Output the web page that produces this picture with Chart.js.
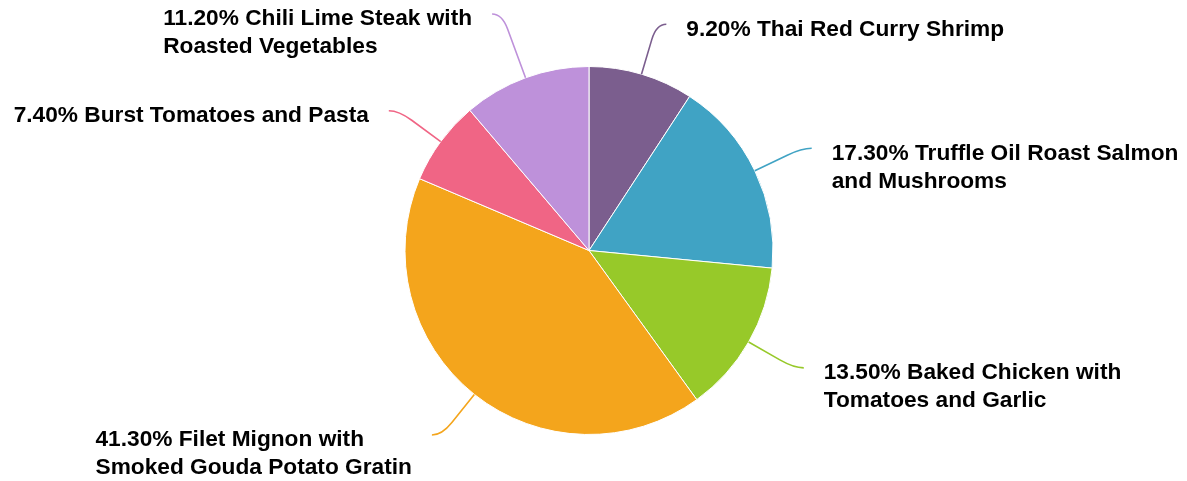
<!DOCTYPE html>
<html>
<head>
<meta charset="utf-8">
<script src="https://cdn.jsdelivr.net/npm/chart.js@4"></script>
<style>
  html, body { margin: 0; padding: 0; background: #fff; }
  #wrap { width: 1187px; height: 481px; position: relative; }
</style>
</head>
<body>
<div id="wrap"><canvas id="chart"></canvas></div>
<script>
// dados do gráfico
const categories = [
  'Thai Red Curry Shrimp',
  'Truffle Oil Roast Salmon and Mushrooms',
  'Baked Chicken with Tomatoes and Garlic',
  'Filet Mignon with Smoked Gouda Potato Gratin',
  'Burst Tomatoes and Pasta',
  'Chili Lime Steak with Roasted Vegetables',
];
const shares = [9.2, 17.3, 13.5, 41.3, 7.4, 11.2];
// onde cada rótulo quebra a linha (número de palavras na 1ª linha, incluindo o %)
const firstLineWords = [5, 5, 4, 4, 6, 5];
const colors = ['#7b5e8e', '#40a3c4', '#97c929', '#f4a51c', '#f06585', '#be91da'];

// extensão radial da linha-guia (px além da borda)
const leaderExt = [52, 52, 52, 52, 52, 68];

const FONT = 'bold 22.7px "Liberation Sans", Arial, sans-serif';
const LINE_H = 28;

const labelPlugin = {
  id: 'leaderLabels',
  afterDatasetsDraw(chart) {
    const ctx = chart.ctx;
    const meta = chart.getDatasetMeta(0);
    ctx.save();
    ctx.font = FONT;
    ctx.textBaseline = 'middle';
    meta.data.forEach((arc, i) => {
      const { x, y, startAngle, endAngle, outerRadius } = arc.getProps(['x', 'y', 'startAngle', 'endAngle', 'outerRadius'], true);
      const mid = (startAngle + endAngle) / 2;
      const cx = Math.cos(mid), sy = Math.sin(mid);
      const side = cx >= 0 ? 1 : -1;
      const r0 = outerRadius;
      const r1 = outerRadius + leaderExt[i];
      const sx0 = x + cx * r0, sy0 = y + sy * r0;
      const ex = x + cx * r1, ey = y + sy * r1;
      const k = 16;
      const endX = ex + side * 10;

      ctx.strokeStyle = colors[i];
      ctx.lineWidth = 1.6;
      ctx.beginPath();
      ctx.moveTo(sx0, sy0);
      ctx.lineTo(ex - cx * k, ey - sy * k);
      ctx.quadraticCurveTo(ex, ey, endX, ey);
      ctx.stroke();

      // texto
      const words = (shares[i].toFixed(2) + '% ' + categories[i]).split(' ');
      const lines = [words.slice(0, firstLineWords[i]).join(' ')];
      if (words.length > firstLineWords[i]) lines.push(words.slice(firstLineWords[i]).join(' '));
      const maxW = Math.max(...lines.map(l => ctx.measureText(l).width));
      const tx = side > 0 ? endX + 20 : endX - 20 - maxW;
      ctx.fillStyle = '#000';
      ctx.textAlign = 'left';
      lines.forEach((l, j) => ctx.fillText(l, tx, ey + 5 + j * LINE_H));
    });
    ctx.restore();
  },
};

new Chart(document.getElementById('chart'), {
  type: 'pie',
  data: {
    labels: categories,
    datasets: [{
      data: shares,
      backgroundColor: colors,
      borderColor: '#ffffff',
      borderWidth: 1,
    }],
  },
  options: {
    responsive: true,
    maintainAspectRatio: false,
    animation: false,
    layout: { padding: { top: 66, bottom: 46, left: 200, right: 209 } },
    plugins: {
      legend: { display: false },
      tooltip: { enabled: false },
    },
  },
  plugins: [labelPlugin],
});
</script>
</body>
</html>
